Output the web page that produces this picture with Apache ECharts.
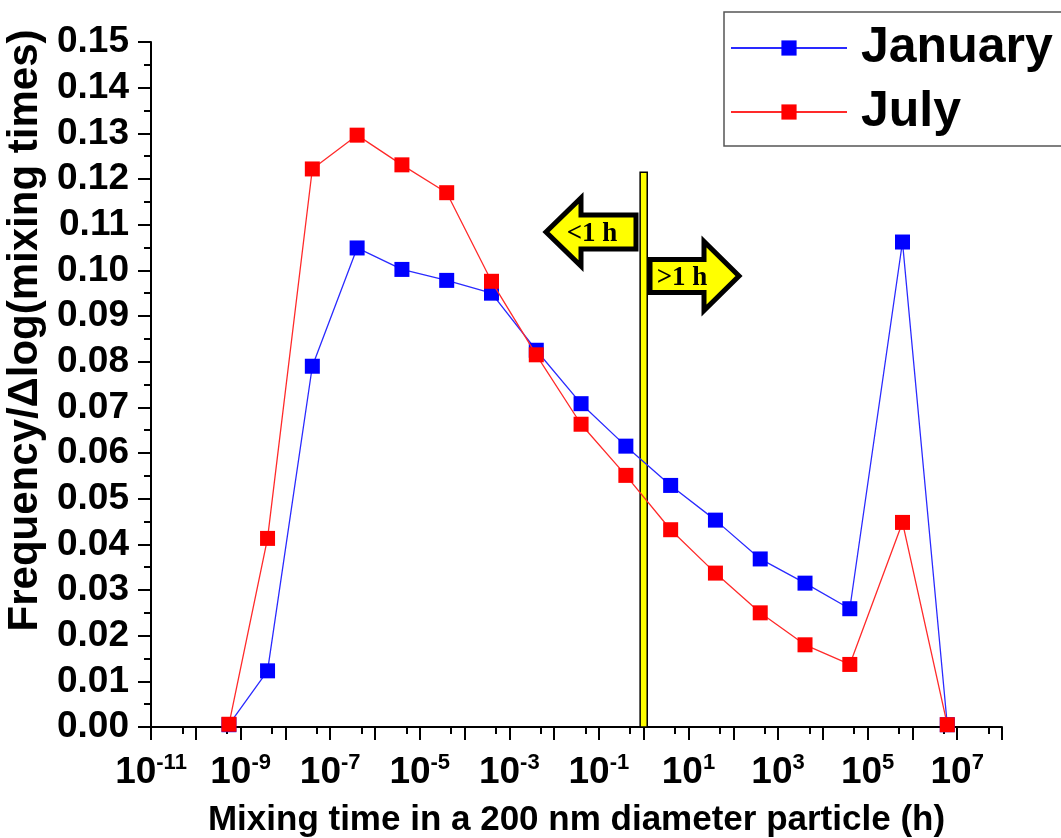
<!DOCTYPE html>
<html>
<head>
<meta charset="utf-8">
<script src="https://cdn.jsdelivr.net/npm/echarts@6/dist/echarts.min.js"></script>
<style>
html,body{margin:0;padding:0;background:#fff;}
#chart{width:1061px;height:838px;}
</style>
</head>
<body>
<div id="chart"></div>
<script>
// ---- data ----
const seriesNames = ['January', 'July'];
const mixingTimeH = [5.5e-10, 4e-9, 4e-8, 4e-7, 4e-6, 4e-5, 4e-4, 4e-3, 4e-2, 4e-1, 4, 40, 400, 4000, 4e4, 6e5, 6e6];
const januaryFreq = [0.0005, 0.0123, 0.0790, 0.1049, 0.1002, 0.0978, 0.0950, 0.0825, 0.0708, 0.0615, 0.0529, 0.0453, 0.0368, 0.0315, 0.0259, 0.1062, 0.0005];
const julyFreq    = [0.0006, 0.0413, 0.1222, 0.1296, 0.1231, 0.1170, 0.0976, 0.0815, 0.0663, 0.0551, 0.0432, 0.0337, 0.0250, 0.0180, 0.0137, 0.0448, 0.0005];
const xMajorTicks = [1e-11,1e-10,1e-9,1e-8,1e-7,1e-6,1e-5,1e-4,1e-3,1e-2,1e-1,1,10,100,1e3,1e4,1e5,1e6,1e7,1e8];
const xLabelTicks = [1e-11,1e-9,1e-7,1e-5,1e-3,1e-1,10,1e3,1e5,1e7];
const xMinorTicks = [5e-11,5e-10,5e-9,5e-8,5e-7,5e-6,5e-5,5e-4,5e-3,5e-2,5e-1,5,50,500,5e3,5e4,5e5,5e6,5e7];
const thresholdH = 1;        // 1 h divider
const thresholdTop = 0.1215; // top of divider bar
const leftArrowText = '<1 h';
const rightArrowText = '>1 h';

const FONT = 'Liberation Sans, Arial, sans-serif';
const chart = echarts.init(document.getElementById('chart'));

const option = {
  backgroundColor: '#fff',
  animation: false,
  grid: { left: 151, right: 59, top: 42, bottom: 111, containLabel: false, outerBoundsMode: 'none' },
  legend: {
    data: seriesNames,
    orient: 'vertical',
    left: 724, top: 12,
    itemWidth: 116, itemHeight: 19, itemGap: 14,
    padding: [11, 80, 9, 6],
    borderColor: '#555', borderWidth: 1.5,
    textStyle: { fontSize: 50, fontWeight: 'bold', fontFamily: FONT, color: '#000', padding: [0, 0, 0, 9] }
  },
  xAxis: [{
    type: 'log', min: 1e-11, max: 1e8, logBase: 10,
    name: 'Mixing time in a 200 nm diameter particle (h)',
    nameLocation: 'middle', nameGap: 76,
    nameTextStyle: { fontSize: 35, fontWeight: 'bold', fontFamily: FONT, color: '#000' },
    axisLine: { show: true, onZero: false, lineStyle: { color: '#000', width: 2 } },
    axisTick: { show: true, inside: false, length: 13, lineStyle: { color: '#000', width: 2 }, customValues: xMajorTicks },
    axisLabel: {
      show: true, margin: 25, customValues: xLabelTicks,
      formatter: function (v) { const e = Math.round(Math.log10(v)); return '{b|10}{s|' + e + '}'; },
      rich: {
        b: { fontSize: 37, fontWeight: 'bold', fontFamily: FONT, color: '#000' },
        s: { fontSize: 22, fontWeight: 'bold', fontFamily: FONT, color: '#000', padding: [0, 0, 20, 0] }
      }
    },
    splitLine: { show: false }, minorSplitLine: { show: false }
  }, {
    type: 'log', min: 1e-11, max: 1e8, logBase: 10, position: 'bottom',
    axisLine: { show: false },
    axisTick: { show: true, inside: false, length: 7, lineStyle: { color: '#000', width: 2 }, customValues: xMinorTicks },
    axisLabel: { show: false },
    splitLine: { show: false }
  }],
  yAxis: {
    type: 'value', min: 0, max: 0.15, interval: 0.01,
    name: 'Frequency/\u0394log(mixing times)',
    nameLocation: 'middle', nameRotate: 90, nameGap: 96,
    nameTextStyle: { fontSize: 42, fontWeight: 'bold', fontFamily: FONT, color: '#000', padding: [0, 0, 0, 108] },
    axisLine: { show: true, lineStyle: { color: '#000', width: 2 } },
    axisTick: { show: true, length: 13, lineStyle: { color: '#000', width: 2 } },
    minorTick: { show: true, splitNumber: 2, length: 7, lineStyle: { color: '#000', width: 2 } },
    axisLabel: {
      margin: 22, fontSize: 37, fontWeight: 'bold', fontFamily: FONT, color: '#000',
      formatter: function (v) { return v.toFixed(2); }
    },
    splitLine: { show: false }
  },
  series: [{
    name: seriesNames[0], type: 'line', xAxisIndex: 0,
    data: mixingTimeH.map((x, i) => [x, januaryFreq[i]]),
    symbol: 'rect', symbolSize: 15,
    itemStyle: { color: '#0000ff' },
    lineStyle: { color: '#2a2aff', width: 1.3 },
    z: 3,
    markArea: {
      silent: true,
      itemStyle: { color: '#ffff00', borderColor: '#000', borderWidth: 1.5 },
      data: [[{ xAxis: thresholdH / 1.2, yAxis: 0 }, { xAxis: thresholdH * 1.2, yAxis: thresholdTop }]]
    }
  }, {
    name: seriesNames[1], type: 'line', xAxisIndex: 0,
    data: mixingTimeH.map((x, i) => [x, julyFreq[i]]),
    symbol: 'rect', symbolSize: 15,
    itemStyle: { color: '#ff0000' },
    lineStyle: { color: '#ff2a2a', width: 1.3 },
    z: 4
  }],
  graphic: [
    { type: 'polygon', z: 10,
      shape: { points: [[546, 232], [581, 198], [581, 215], [636, 215], [636, 249], [581, 249], [581, 266]] },
      style: { fill: '#ffff00', stroke: '#000', lineWidth: 5, lineJoin: 'miter' } },
    { type: 'text', z: 11, x: 592, y: 234,
      style: { text: leftArrowText, fontSize: 27, fontWeight: 'bold', fontFamily: 'Liberation Serif, Times New Roman, serif', fill: '#000', align: 'center', verticalAlign: 'middle' } },
    { type: 'polygon', z: 10,
      shape: { points: [[650, 259.5], [704, 259.5], [704, 241.5], [739, 276], [704, 310.5], [704, 292.5], [650, 292.5]] },
      style: { fill: '#ffff00', stroke: '#000', lineWidth: 5, lineJoin: 'miter' } },
    { type: 'text', z: 11, x: 682, y: 278,
      style: { text: rightArrowText, fontSize: 27, fontWeight: 'bold', fontFamily: 'Liberation Serif, Times New Roman, serif', fill: '#000', align: 'center', verticalAlign: 'middle' } }
  ]
};
chart.setOption(option);
</script>
</body>
</html>
